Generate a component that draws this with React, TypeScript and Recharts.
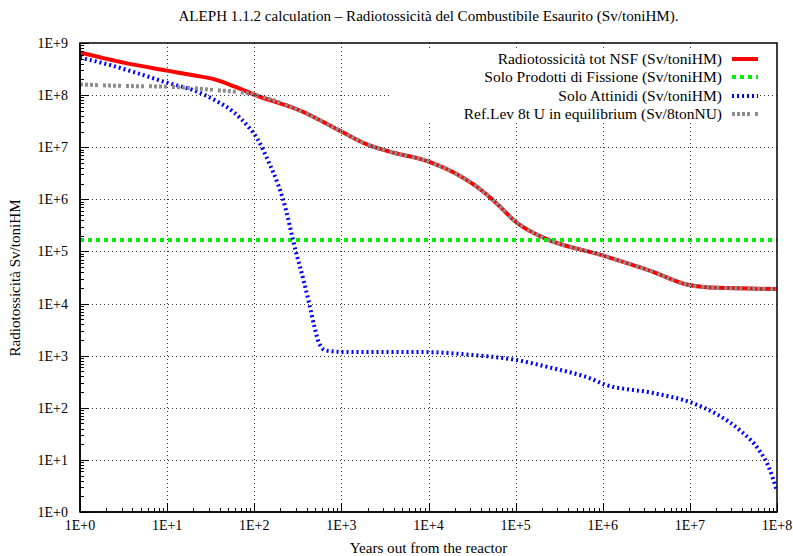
import { LineChart, Line, XAxis, YAxis } from 'recharts';

const FONT = '"Liberation Serif", "DejaVu Serif", serif';

// major decades on both axes
const xTicks = [1, 1e1, 1e2, 1e3, 1e4, 1e5, 1e6, 1e7, 1e8];
const yTicks = [1, 1e1, 1e2, 1e3, 1e4, 1e5, 1e6, 1e7, 1e8, 1e9];

// Radiotossicità tot NSF (Sv/toniHM)
const totYears = [1, 3.16, 10, 20, 35, 60, 100, 350, 1000, 2000, 3500, 10000, 20000, 44000, 68000, 100000, 214000, 950000, 3.6e6, 9.5e6, 2.1e7, 1e8];
const totValues = [6.6e8, 4.2e8, 2.95e8, 2.4e8, 2.0e8, 1.45e8, 1.02e8, 4.9e7, 2.0e7, 1.12e7, 8.3e6, 5.3e6, 3.2e6, 1.34e6, 6.9e5, 3.7e5, 1.8e5, 8.6e4, 4.2e4, 2.3e4, 2.0e4, 1.9e4];

// Solo Prodotti di Fissione (Sv/toniHM)
const fissYears = [1, 1e2, 1e4, 1e6, 1e8];
const fissValues = [1.65e5, 1.65e5, 1.65e5, 1.65e5, 1.65e5];

// Solo Attinidi (Sv/toniHM)
const actYears = [1, 1.74, 4.2, 10, 20, 35, 59, 85, 110, 145, 186, 214, 300, 372, 427, 490, 550, 660, 1000, 10000, 28000, 100000, 260000, 740000, 1.05e6, 3.6e6, 1.05e7, 2.1e7, 3.9e7, 6.2e7, 8e7, 1e8];
const actValues = [5.2e8, 4.2e8, 2.75e8, 1.73e8, 1.24e8, 8.1e7, 4.6e7, 2.5e7, 1.4e7, 5.4e6, 2.0e6, 1.0e6, 1.0e5, 2.6e4, 1.0e4, 3.6e3, 1.8e3, 1.26e3, 1.18e3, 1.17e3, 1.05e3, 830, 580, 360, 280, 195, 125, 73, 35, 15.5, 7.4, 2.5];

// Ref.Lev 8t U in equilibrium (Sv/8tonNU)
const refYears = [1, 3.16, 10, 30, 100, 350, 1000, 2000, 3500, 10000, 20000, 44000, 68000, 100000, 214000, 950000, 3.6e6, 9.5e6, 2.1e7, 1e8];
const refValues = [1.6e8, 1.5e8, 1.45e8, 1.28e8, 1.02e8, 4.9e7, 2.0e7, 1.12e7, 8.3e6, 5.3e6, 3.2e6, 1.34e6, 6.9e5, 3.7e5, 1.8e5, 8.6e4, 4.2e4, 2.3e4, 2.0e4, 1.9e4];

const toRows = (xs: number[], ys: number[]) => xs.map((x, i) => ({ x, y: ys[i] }));

const minorTicks = (decades: number) => {
    const out: number[] = [];
    for (let e = 0; e < decades; e++) for (let m = 2; m <= 9; m++) out.push(m * Math.pow(10, e));
    return out;
};

const fmt = (v: number) => `1E+${Math.round(Math.log10(v))}`;

const SERIES = [
    { name: 'Radiotossicità tot NSF (Sv/toniHM)', color: '#ff0000', dash: undefined as string | undefined, rows: toRows(totYears, totValues) },
    { name: 'Solo Prodotti di Fissione (Sv/toniHM)', color: '#00f000', dash: '4 4', rows: toRows(fissYears, fissValues) },
    { name: 'Solo Attinidi (Sv/toniHM)', color: '#0000ff', dash: '2 3', rows: toRows(actYears, actValues) },
    { name: 'Ref.Lev 8t U in equilibrium (Sv/8tonNU)', color: '#8c8c8c', dash: '3 2 3 2 3 2 3 5', rows: toRows(refYears, refValues) },
];

// plot box (same as the chart margins / axis sizes below)
const W = 793, H = 556;
const M = { top: 43, right: 16, bottom: 0, left: 0 };
const AX_W = 80, AX_H = 44;
const PL = M.left + AX_W, PR = W - M.right, PT = M.top, PB = H - M.bottom - AX_H;
const px = (t: number) => PL + (Math.log10(t) / 8) * (PR - PL);
const py = (t: number) => PB - (Math.log10(t) / 9) * (PB - PT);
const crisp = (v: number) => Math.round(v) + 0.5;

const tickStyle = { fill: '#000', fontSize: 14, fontFamily: FONT };
const TXT = 15.1;

// grid, inward ticks and frame
function Frame() {
    return (
        <svg width={W} height={H} style={{ position: 'absolute', left: 0, top: 0, zIndex: 2, pointerEvents: 'none' }}>
            {xTicks.slice(1, -1).map(t => (
                <line key={'gx' + t} x1={crisp(px(t))} y1={PT} x2={crisp(px(t))} y2={PB} stroke="#000" strokeOpacity={0.8} strokeDasharray="1 3" />
            ))}
            {yTicks.slice(1, -1).map(t => (
                <line key={'gy' + t} x1={PL} y1={crisp(py(t))} x2={PR} y2={crisp(py(t))} stroke="#000" strokeOpacity={0.8} strokeDasharray="1 3" />
            ))}
            {xTicks.map(t => <line key={'tx' + t} x1={crisp(px(t))} y1={PB} x2={crisp(px(t))} y2={PB - 9} stroke="#000" />)}
            {minorTicks(8).map(t => <line key={'mx' + t} x1={crisp(px(t))} y1={PB} x2={crisp(px(t))} y2={PB - 4} stroke="#000" />)}
            {yTicks.map(t => <line key={'ty' + t} x1={PL} y1={crisp(py(t))} x2={PL + 9} y2={crisp(py(t))} stroke="#000" />)}
            {minorTicks(9).map(t => <line key={'my' + t} x1={PL} y1={crisp(py(t))} x2={PL + 4} y2={crisp(py(t))} stroke="#000" />)}
            <rect x={PL} y={PT} width={PR - PL} height={PB - PT} fill="none" stroke="#000" strokeWidth={1.5} />
        </svg>
    );
}

export default function App() {
    return (
        <div style={{ position: 'absolute', left: 0, top: 0, width: W, height: H, background: '#fff', fontFamily: FONT, color: '#000' }}>
            <div style={{ position: 'absolute', left: 0, top: 0, zIndex: 1 }}>
                <LineChart width={W} height={H} margin={M}>
                    <XAxis dataKey="x" type="number" scale="log" domain={[1, 1e8]} allowDataOverflow ticks={xTicks} interval={0}
                        tickFormatter={fmt} tickLine={false} axisLine={{ stroke: '#000', strokeWidth: 1.5 }} tickSize={4} tickMargin={4} height={AX_H} tick={tickStyle} />
                    <YAxis dataKey="y" type="number" scale="log" domain={[1, 1e9]} allowDataOverflow ticks={yTicks} interval={0}
                        tickFormatter={fmt} tickLine={false} axisLine={{ stroke: '#000', strokeWidth: 1.5 }} tickSize={4} tickMargin={8} width={AX_W} tick={tickStyle} />

                    {SERIES.map(s => (
                        <Line key={s.name} data={s.rows} dataKey="y" name={s.name} type="monotone"
                            stroke={s.color} strokeWidth={4} strokeDasharray={s.dash} dot={false} activeDot={false} isAnimationActive={false} />
                    ))}
                </LineChart>
            </div>

            <Frame />

            {/* title */}
            <div style={{ position: 'absolute', zIndex: 3, left: PL, top: 7, width: PR - PL, textAlign: 'center', fontSize: TXT, lineHeight: '18px', whiteSpace: 'nowrap' }}>
                ALEPH 1.1.2 calculation – Radiotossicità del Combustibile Esaurito (Sv/toniHM).
            </div>

            {/* axis titles */}
            <div style={{ position: 'absolute', zIndex: 3, left: PL, top: 539, width: PR - PL, textAlign: 'center', fontSize: TXT, lineHeight: '18px' }}>
                Years out from the reactor
            </div>
            <div style={{ position: 'absolute', zIndex: 3, left: 15, top: 278, transform: 'translate(-50%, -50%) rotate(-90deg)', fontSize: TXT, lineHeight: '18px', whiteSpace: 'nowrap' }}>
                Radiotossicità Sv/toniHM
            </div>

            {/* legend */}
            <div style={{ position: 'absolute', zIndex: 3, left: 390, top: 50, width: 368, background: '#fff' }}>
                {SERIES.map(s => (
                    <div key={s.name} style={{ display: 'flex', justifyContent: 'flex-end', alignItems: 'center', height: 18.3, fontSize: 15.5 }}>
                        <span style={{ whiteSpace: 'nowrap' }}>{s.name}</span>
                        <svg width={26} height={8} style={{ marginLeft: 10 }}>
                            <line x1={0} y1={4} x2={26} y2={4} stroke={s.color} strokeWidth={4} strokeDasharray={s.dash} />
                        </svg>
                    </div>
                ))}
            </div>
        </div>
    );
}
